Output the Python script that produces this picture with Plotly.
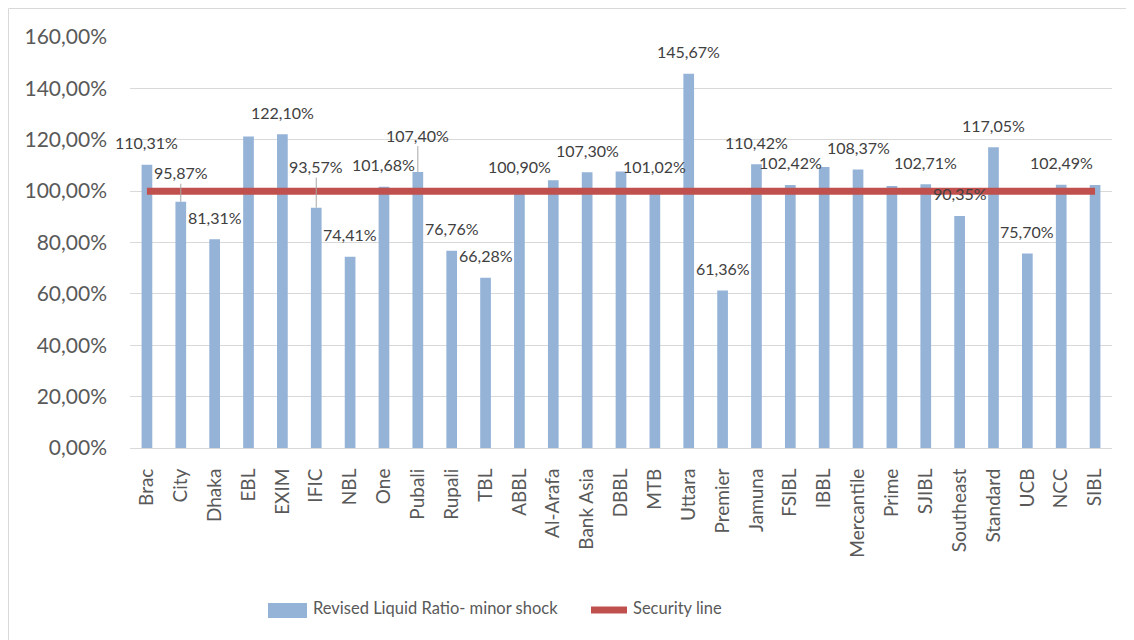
import plotly.graph_objects as go

# ---------------- data ----------------
categories = ["Brac", "City", "Dhaka", "EBL", "EXIM", "IFIC", "NBL", "One", "Pubali",
              "Rupali", "TBL", "ABBL", "Al-Arafa", "Bank Asia", "DBBL", "MTB", "Uttara",
              "Premier", "Jamuna", "FSIBL", "IBBL", "Mercantile", "Prime", "SJIBL",
              "Southeast", "Standard", "UCB", "NCC", "SIBL"]
ratio_values = [110.31, 95.87, 81.31, 121.3, 122.10, 93.57, 74.41, 101.68, 107.40,
                76.76, 66.28, 100.90, 104.2, 107.30, 107.6, 101.02, 145.67,
                61.36, 110.42, 102.42, 109.4, 108.37, 102.0, 102.71,
                90.35, 117.05, 75.70, 102.49, 102.4]
security_values = [100.0] * len(categories)
labelled = ["Brac", "City", "Dhaka", "EXIM", "IFIC", "NBL", "One", "Pubali", "Rupali",
            "TBL", "ABBL", "Bank Asia", "MTB", "Uttara", "Premier", "Jamuna", "FSIBL",
            "Mercantile", "SJIBL", "Southeast", "Standard", "UCB", "NCC"]
y_ticks = [0, 20, 40, 60, 80, 100, 120, 140, 160]
series_names = ["Revised Liquid Ratio- minor shock", "Security line"]


def pct(v):
    return f"{v:.2f}%".replace(".", ",")


# ---------------- style ----------------
FONT = "Lato"
BAR_COLOR = "#95B3D7"
LINE_COLOR = "#C0504D"
GRID = "#D9D9D9"
TXT = "#595959"
LBL = "#404040"
leader_offsets = {"City": 29, "IFIC": 41, "Pubali": 37}  # labels moved with leader lines

OFF = 8  # page body margin
W, H = 1134, 640
L, T = 130 - OFF, 37 - OFF
R, B = W - (1112 - OFF), H - (448 - OFF)
pw, ph = W - L - R, H - T - B


def px_x(px):  # image pixel -> paper x
    return (px - OFF - L) / pw


def px_y(py):  # image pixel -> paper y
    return (H - B - (py - OFF)) / ph


fig = go.Figure()
fig.add_trace(go.Bar(
    x=categories, y=ratio_values, name=series_names[0],
    marker=dict(color=BAR_COLOR, line=dict(width=0)),
    hoverinfo="x+y", showlegend=False,
))
fig.add_trace(go.Scatter(
    x=categories, y=security_values, name=series_names[1], mode="lines",
    line=dict(color=LINE_COLOR, width=7), showlegend=False,
))

annotations = []
for c, v in zip(categories, ratio_values):
    if c not in labelled:
        continue
    if c in leader_offsets:
        annotations.append(dict(
            x=c, y=v, text=pct(v), showarrow=True, arrowhead=0, arrowwidth=1,
            arrowcolor="#A6A6A6", ax=0, ay=-leader_offsets[c], standoff=0,
            font=dict(family=FONT, size=16, color=LBL)))
    else:
        annotations.append(dict(
            x=c, y=v, text=pct(v), showarrow=False, yanchor="middle", yshift=22,
            font=dict(family=FONT, size=16, color=LBL)))

# legend drawn by hand (Excel-style swatches)
leg_y = px_y(610)
annotations.append(dict(xref="paper", yref="paper", x=px_x(311), y=px_y(608),
                        xanchor="left", yanchor="middle", showarrow=False,
                        text=series_names[0],
                        font=dict(family=FONT, size=16.5, color=TXT)))
annotations.append(dict(xref="paper", yref="paper", x=px_x(631), y=px_y(608),
                        xanchor="left", yanchor="middle", showarrow=False,
                        text=series_names[1],
                        font=dict(family=FONT, size=16.5, color=TXT)))

shapes = [
    dict(type="rect", xref="paper", yref="paper",
         x0=px_x(8.5), x1=px_x(1160), y0=px_y(660), y1=px_y(8.5),
         line=dict(color=GRID, width=1), fillcolor="rgba(0,0,0,0)", layer="below"),
    dict(type="rect", xref="paper", yref="paper",
         x0=px_x(268), x1=px_x(307), y0=px_y(618), y1=px_y(603),
         line=dict(width=0), fillcolor=BAR_COLOR),
    dict(type="line", xref="paper", yref="paper",
         x0=px_x(591), x1=px_x(627), y0=leg_y, y1=leg_y,
         line=dict(color=LINE_COLOR, width=7)),
]

fig.update_layout(
    width=W, height=H,
    margin=dict(l=L, r=R, t=T, b=B),
    paper_bgcolor="white", plot_bgcolor="white",
    bargap=0.684,
    font=dict(family=FONT, color=TXT),
    showlegend=False,
    annotations=annotations,
    shapes=shapes,
    xaxis=dict(
        type="category", tickangle=-90, showgrid=False, showline=True,
        linecolor=GRID, linewidth=1, ticks="", ticklabelstandoff=12,
        tickfont=dict(family=FONT, size=19, color=TXT), range=[-0.5, len(categories) - 0.5],
    ),
    yaxis=dict(
        range=[0, 160], tickvals=y_ticks, ticktext=[pct(v) for v in y_ticks],
        showgrid=True, gridcolor=GRID, gridwidth=1, zeroline=False, showline=False,
        ticks="", ticklabelstandoff=22,
        tickfont=dict(family=FONT, size=21, color=TXT),
    ),
)

fig.write_html("out.html")
